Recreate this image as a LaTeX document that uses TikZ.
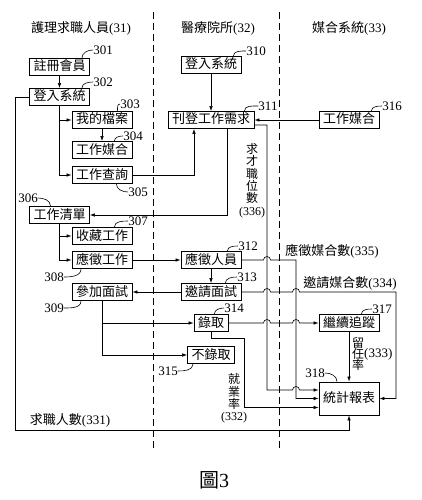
\documentclass[tikz,border=0pt]{standalone}
\usepackage{fontspec}
\setmainfont{Liberation Serif}
\newfontfamily\cjk{Noto Sans CJK TC}
\usetikzlibrary{arrows.meta}

\tikzset{
  box/.style={draw, line width=0.8pt, font=\cjk\fontsize{13}{14}\selectfont,
    inner xsep=4pt, inner ysep=0pt, minimum height=17pt, text height=10.5pt, text depth=2.5pt},
  num/.style={font=\fontsize{13}{14}\selectfont, inner sep=0pt},
  vtext/.style={align=center, inner sep=0pt, font={\cjk\fontsize{12}{12.3}\selectfont\lineskiplimit=-20pt}},
  lead/.style={line width=0.6pt},
  flow/.style={line width=0.6pt, -{Latex[length=5pt,width=3.5pt]}},
  lane/.style={line width=0.8pt, dash pattern=on 7pt off 4pt},
}

\begin{document}
\begin{tikzpicture}[x=1pt, y=1pt]
                    \useasboundingbox (0,0) rectangle (421,-500);

                    % lanes
                    \coordinate(L1a)at(153, -12);
                    \coordinate(L1b)at(153, -448);
                    \coordinate(L2a)at(279, -12);
                    \coordinate(L2b)at(279, -448);
                    \draw[lane](L1a)--(L1b);
                    \draw[lane](L2a)--(L2b);

                    \node[num](h31)at(81, -28){{\cjk 護理求職人員}(31)};
                    \node[num](h32)at(218, -28){{\cjk 醫療院所}(32)};
                    \node[num](h33)at(349, -28){{\cjk 媒合系統}(33)};

                    % nurse side
                    \node[box](n301)at(59.5, -67){註冊會員};
                    \node[box](n302)at(59.5, -97){登入系統};
                    \node[box](n303)at(102, -120){我的檔案};
                    \node[box](n304)at(102, -150){工作媒合};
                    \node[box](n305)at(102, -175){工作查詢};
                    \node[box](n306)at(59.5, -215){工作清單};
                    \node[box](n307)at(102, -236){收藏工作};
                    \node[box](n308)at(102, -260){應徵工作};
                    \node[box](n309)at(102, -292){參加面試};

                    % hospital side
                    \node[box](n310)at(211, -65){登入系統};
                    \node[box](n311)at(211, -120){刊登工作需求};
                    \node[box](n312)at(211, -260){應徵人員};
                    \node[box](n313)at(211, -292){邀請面試};
                    \node[box](n314)at(211, -323){錄取};
                    \node[box](n315)at(211, -355){不錄取};

                    % matching system
                    \node[box](n316)at(349, -120){工作媒合};
                    \node[box](n317)at(349, -323){繼續追蹤};
                    \node[box, minimum height=33pt](n318)at(349, -398.5){統計報表};

                    % reference numbers
                    \node[num](t301)at(103, -50){301};
                    \node[num](t302)at(103, -82){302};
                    \node[num](t303)at(130, -104){303};
                    \node[num](t304)at(133, -136){304};
                    \node[num](t305)at(138, -192){305};
                    \node[num](t306)at(28, -198){306};
                    \node[num](t307)at(138, -221){307};
                    \node[num](t308)at(54, -277){308};
                    \node[num](t309)at(54, -308){309};
                    \node[num](t310)at(256, -51){310};
                    \node[num](t311)at(268, -106){311};
                    \node[num](t312)at(248, -246){312};
                    \node[num](t313)at(247, -277){313};
                    \node[num](t314)at(234, -308){314};
                    \node[num](t315)at(168, -371){315};
                    \node[num](t316)at(392, -106){316};
                    \node[num](t317)at(382, -309){317};
                    \node[num](t318)at(315, -373){318};

                    \draw[lead]([xshift=-8pt]n301.north east)to[out=90,in=180](t301.west);
                    \draw[lead]([xshift=-8pt]n302.north east)to[out=90,in=180](t302.west);
                    \draw[lead]([xshift=-15pt]n303.north east)to[out=90,in=180](t303.west);
                    \draw[lead]([xshift=-18pt]n304.north east)to[out=90,in=180](t304.west);
                    \draw[lead]([xshift=-16pt]n305.south east)to[out=-90,in=180](t305.west);
                    \draw[lead](t306.east)to[out=0,in=90]([xshift=-9pt]n306.north);
                    \draw[lead]([xshift=-18pt]n307.north east)to[out=90,in=180](t307.west);
                    \draw[lead](t308.east)to[out=0,in=-90]([xshift=-21pt]n308.south);
                    \draw[lead](t309.east)to[out=0,in=-90]([xshift=-21pt]n309.south);
                    \draw[lead]([xshift=-8pt]n310.north east)to[out=90,in=180](t310.west);
                    \draw[lead]([xshift=-10pt]n311.north east)to[out=90,in=180](t311.west);
                    \draw[lead]([xshift=-14pt]n312.north east)to[out=90,in=180](t312.west);
                    \draw[lead]([xshift=-16pt]n313.north east)to[out=90,in=180](t313.west);
                    \draw[lead]([xshift=-14pt]n314.north east)to[out=90,in=180](t314.west);
                    \draw[lead](t315.east)to[out=0,in=-90]([xshift=-18pt]n315.south);
                    \draw[lead]([xshift=-8pt]n316.north east)to[out=90,in=180](t316.west);
                    \draw[lead]([xshift=-18pt]n317.north east)to[out=90,in=180](t317.west);
                    \draw[lead](t318.east)to[out=0,in=90]([xshift=-12pt]n318.north);

                    % flows
                    \draw[flow](n301)--(n302);
                    \draw[flow](n302.south)|-(n303.west);
                    \draw[flow](n302.south)|-(n305.west);
                    \draw[flow](n303)--(n304);
                    \draw[flow](n305.east)-|([xshift=-17pt]n311.south);
                    \draw[flow]([xshift=16pt]n311.south)|-(n306.east);
                    \draw[flow](n306.south)|-(n307.west);
                    \draw[flow](n306.south)|-(n308.west);
                    \draw[flow](n310)--(n311);
                    \draw[flow](n316)--(n311);
                    \draw[flow](n308)--(n312);
                    \draw[flow](n312)--(n313);
                    \draw[flow](n313)--(n309);
                    \draw[flow](n309.south)|-(n314.west);
                    \draw[flow](n309.south)|-(n315.west);
                    \draw[flow](n317)--(n318);

                    % counts into the report
                    \coordinate(c331)at(15, -430);
                    \draw[flow](n302.west)-|(c331)-|(n318.south);
                    \node[num](t331)at(70, -420){{\cjk 求職人數}(331)};

                    \draw[flow]([yshift=-5pt]n311.east)--(267, -125)--(267, -390)
                        --(292.5, -390)arc(180:0:3.5)--([yshift=8.5pt]n318.west);
                    \node[vtext](t336)at(252, -180.5){求\\才\\職\\位\\數\\\rmfamily(336)};

                    \draw[flow](n312.east)--(263.5, -260)arc(180:0:3.5)--(296, -260)
                        --(296, -398.5)--(n318.west);
                    \node[num](t335)at(332, -251){{\cjk 應徵媒合數}(335)};

                    \draw[flow](n313.east)--(263.5, -292)arc(180:0:3.5)--(292.5, -292)arc(180:0:3.5)
                        --(396, -292)|-(n318.east);
                    \node[num](t334)at(350, -283){{\cjk 邀請媒合數}(334)};

                    \draw[flow](n314.east)--(263.5, -323)arc(180:0:3.5)--(292.5, -323)arc(180:0:3.5)
                        --(n317.west);

                    \coordinate(c332)at(244, -338);
                    \draw[flow](n314.south)|-(c332)|-([yshift=-9pt]n318.west);
                    \node[vtext](t332)at(234, -398.5){就\\業\\率\\\rmfamily(332)};

                    \node[vtext, font={\cjk\fontsize{12}{11}\selectfont\lineskiplimit=-20pt}](t333)at(358, -354){留\\任\\率};
                    \node[num, anchor=west](t333n)at(364, -354){(333)};

                    \node[font=\fontsize{20}{22}\selectfont](fig)at(214, -480){{\cjk 圖}3};
                \end{tikzpicture}
\end{document}
